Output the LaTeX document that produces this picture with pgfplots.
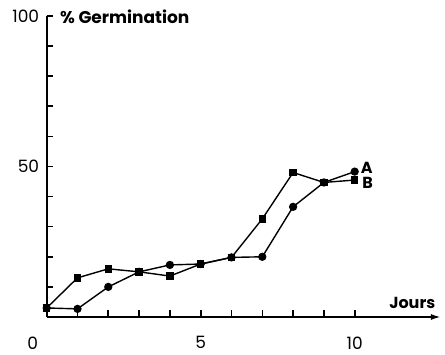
\documentclass[border=0pt]{standalone}
\usepackage{fontspec}
\setmainfont{Poppins}
\usepackage{pgfplots}
\pgfplotsset{compat=1.18}
\usetikzlibrary{arrows.meta}
\begin{document}
\begin{tikzpicture}
\begin{axis}[
 at={(0,0)}, anchor=origin,
 x=30.8pt, y=3.01pt,
 xmin=0, xmax=12.8, ymin=0, ymax=100,
 axis x line=bottom, axis y line=left,
 x axis line style={-{Latex[length=10pt,width=6pt]}, line width=1.8pt},
 y axis line style={-, line width=1.8pt},
 xtick={0,5,10}, xticklabels={,5,10}, ytick={50,100},
 minor xtick={1,...,10}, minor ytick={10,20,...,90},
 xtick align=inside, ytick align=inside,
 major tick length=6.5pt, minor tick length=6.5pt,
 xtick style={line width=1.6pt, black},
 ytick style={line width=1.6pt, black},
 tick label style={font=\fontsize{17}{17}\selectfont},
 /pgf/number format/assume math mode=true,
 xticklabel style={yshift=-16pt},
 yticklabel style={xshift=-4pt},
 clip=false,
]
\addplot[black, line width=1.4pt, mark=*, mark size=3.4pt] coordinates {
(0,3)(1,2.7)(2,10)(3,15)(4,17.3)(5,17.6)(6,19.8)(7,20)(8,36.6)(9,44.7)(10,48.3)};
\addplot[black, line width=1.4pt, mark=square*, mark size=3pt] coordinates {
(0,3)(1,13)(2,16)(3,15)(4,13.6)(5,17.6)(6,19.8)(7,32.6)(8,48)(9,44.7)(10,45.5)};
\node[font=\fontsize{16}{16}\selectfont\bfseries] at (axis cs:10.39,49.7) {A};
\node[font=\fontsize{16}{16}\selectfont\bfseries] at (axis cs:10.42,44.4) {B};
\node[font=\fontsize{16}{16}\selectfont\bfseries] at (axis cs:11.87,4.65) {Jours};
\node[font=\fontsize{17}{17}\selectfont\bfseries, anchor=west, inner xsep=0pt] at (axis cs:0.43,99.7) {\% Germination};
\node[font=\fontsize{17}{17}\selectfont] at (axis cs:0,0) [xshift=-14pt, yshift=-26pt] {0};
\end{axis}
\path (-46.7pt,-38pt) rectangle (398.3pt,317pt);
\end{tikzpicture}
\end{document}
